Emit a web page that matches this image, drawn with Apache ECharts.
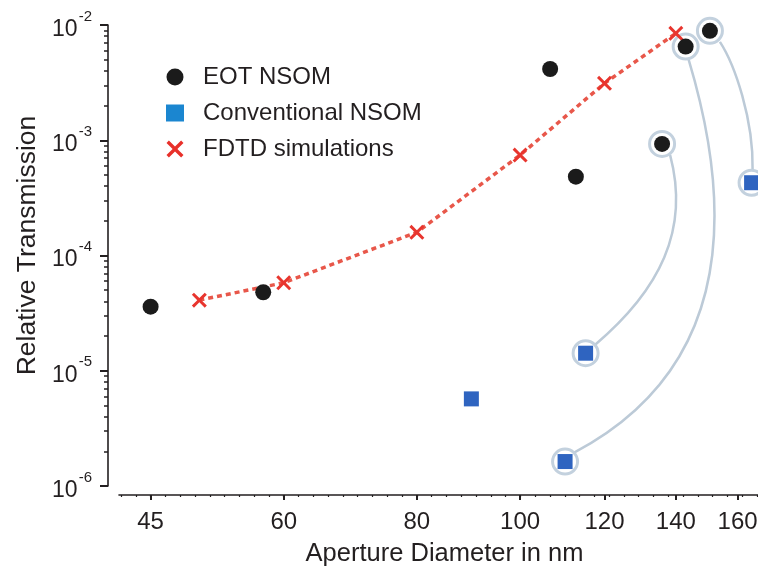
<!DOCTYPE html>
<html>
<head>
<meta charset="utf-8">
<script src="https://cdn.jsdelivr.net/npm/echarts@6/dist/echarts.min.js"></script>
<style>
  html, body { margin: 0; padding: 0; background: #fff; }
  #chart { width: 758px; height: 568px; }
</style>
</head>
<body>
<div id="chart"></div>
<script>
// Aperture diameter (nm) and relative transmission for each data set
const eotDiameter = [45, 57.4, 106.7, 112.8, 135.9, 143.0, 150.7];
const eotTransmission = [3.6e-5, 4.8e-5, 4.15e-3, 4.83e-4, 9.3e-4, 6.5e-3, 8.9e-3];

const convDiameter = [90.0, 115.2, 110.2, 164.9];
const convTransmission = [5.7e-6, 1.42e-5, 1.63e-6, 4.28e-4];

const fdtdDiameter = [50, 60, 80, 100, 120, 140];
const fdtdTransmission = [4.1e-5, 5.8e-5, 1.59e-4, 7.44e-4, 3.12e-3, 8.47e-3];

// EOT points linked to the conventional point measured on the same probe
const linkedEot = [4, 5, 6];
const linkedConv = [1, 2, 3];

// Axis ticks
const xTickLabels = [45, 60, 80, 100, 120, 140, 160];
const yExponents = [-6, -5, -4, -3, -2];
const xRange = [42.03, 167.2];

const FONT = "'Liberation Sans', Arial, Helvetica, sans-serif";
const INK = '#231f20';
const lg = Math.log10;

// Both axes are logarithmic: values are placed in log10 space
const toPoints = (xs, ys) => xs.map((x, i) => [lg(x), lg(ys[i])]);
const eotPts = toPoints(eotDiameter, eotTransmission);
const convPts = toPoints(convDiameter, convTransmission);
const fdtdPts = toPoints(fdtdDiameter, fdtdTransmission);
const ringPts = linkedEot.map(i => eotPts[i]).concat(linkedConv.map(i => convPts[i]));
const links = linkedEot.map((e, k) => [eotPts[e][0], eotPts[e][1], convPts[linkedConv[k]][0], convPts[linkedConv[k]][1], k]);

// minor ticks: x evenly spaced in log space, y at 2..9 of each decade
const xStep = lg(60 / 45) / 9;
const xMinor = [];
for (let v = lg(45); v > lg(xRange[0]); v -= xStep) xMinor.push(v);
for (let v = lg(45) + xStep; v < lg(xRange[1]); v += xStep) xMinor.push(v);
const yMinor = [];
yExponents.slice(0, -1).forEach(d => { for (let k = 2; k <= 9; k++) yMinor.push(d + lg(k)); });

// connector shapes (pixel offsets from the linked markers)
const bends = [
  { s: [8, 11], c1: [28, 86], c2: [74, -63], e: [9, -8] },
  { s: [3, 13], c1: [39, 133], c2: [185, -102], e: [9, -9] },
  { s: [10, 11], c1: [25, 34], c2: [2, -63], e: [1, -13] }
];

const crossPath = 'path://M0,1.4L1.4,0L5,3.6L8.6,0L10,1.4L6.4,5L10,8.6L8.6,10L5,6.4L1.4,10L0,8.6L3.6,5Z';

const chart = echarts.init(document.getElementById('chart'));
const xMajor = xTickLabels.map(lg);

chart.setOption({
  animation: false,
  textStyle: { fontFamily: FONT },
  grid: { left: 119, right: 0, top: 25, bottom: 82, containLabel: false, outerBoundsMode: 'none' },
  legend: {
    orient: 'vertical', left: 161, top: 59, itemWidth: 18, itemHeight: 17, itemGap: 10,
    selectedMode: false,
    textStyle: { fontSize: 24, color: INK, fontFamily: FONT, lineHeight: 26, padding: [0, 0, 0, 14] },
    data: [
      { name: 'EOT NSOM', icon: 'circle', itemStyle: { color: '#1b1b1b' } },
      { name: 'Conventional NSOM', icon: 'rect', itemStyle: { color: '#1b86d0' } },
      { name: 'FDTD simulations', icon: crossPath, itemStyle: { color: '#e8302a', borderWidth: 0 } }
    ]
  },
  xAxis: [{
    type: 'value', min: lg(xRange[0]), max: lg(xRange[1]), position: 'bottom', offset: 9,
    name: 'Aperture Diameter in nm', nameLocation: 'middle', nameGap: 46,
    nameTextStyle: { fontSize: 25.5, color: INK, fontFamily: FONT, padding: [0, 0, 0, 12] },
    axisLine: { lineStyle: { color: INK, width: 1.6 } },
    axisTick: { customValues: xMajor, length: 5, lineStyle: { color: INK, width: 2 } },
    axisLabel: { customValues: xMajor, margin: 15, fontSize: 24, color: INK, fontFamily: FONT,
      formatter: v => String(Math.round(Math.pow(10, v))) },
    splitLine: { show: false }
  }, {
    type: 'value', min: lg(xRange[0]), max: lg(xRange[1]), position: 'bottom', offset: 9,
    axisLine: { show: false },
    axisTick: { customValues: xMinor, length: 2, lineStyle: { color: INK, width: 1.2 } },
    axisLabel: { show: false }, splitLine: { show: false }
  }],
  yAxis: [{
    type: 'value', min: -6, max: -2, position: 'left', offset: 11,
    name: 'Relative Transmission', nameLocation: 'middle', nameGap: 67,
    nameTextStyle: { fontSize: 26.5, color: INK, fontFamily: FONT, padding: [0, 0, 0, 20] },
    axisLine: { lineStyle: { color: INK, width: 1.6 } },
    axisTick: { customValues: yExponents, length: 8, lineStyle: { color: INK, width: 2 } },
    axisLabel: {
      customValues: yExponents, margin: 16,
      formatter: v => '{b|10}{s|' + Math.round(v) + '}',
      rich: {
        b: { fontSize: 23, color: INK, fontFamily: FONT, lineHeight: 32, verticalAlign: 'bottom' },
        s: { fontSize: 15, color: INK, fontFamily: FONT, verticalAlign: 'top', padding: [0, 0, 0, 1] }
      }
    },
    splitLine: { show: false }
  }, {
    type: 'value', min: -6, max: -2, position: 'left', offset: 11,
    axisLine: { show: false },
    axisTick: { customValues: yMinor, length: 4, lineStyle: { color: INK, width: 1.5 } },
    axisLabel: { show: false }, splitLine: { show: false }
  }],
  series: [
    {
      name: 'links', type: 'custom', coordinateSystem: 'cartesian2d', silent: true, z: 1, clip: false,
      encode: { x: [0, 2], y: [1, 3] },
      data: links,
      renderItem: (params, api) => {
        const p0 = api.coord([api.value(0), api.value(1)]);
        const p1 = api.coord([api.value(2), api.value(3)]);
        const b = bends[api.value(4)];
        return {
          type: 'bezierCurve',
          shape: {
            x1: p0[0] + b.s[0], y1: p0[1] + b.s[1],
            cpx1: p0[0] + b.c1[0], cpy1: p0[1] + b.c1[1],
            cpx2: p1[0] + b.c2[0], cpy2: p1[1] + b.c2[1],
            x2: p1[0] + b.e[0], y2: p1[1] + b.e[1]
          },
          style: { stroke: '#bccad7', lineWidth: 2.5, fill: null }
        };
      }
    },
    {
      name: 'rings', type: 'scatter', silent: true, z: 2, data: ringPts,
      symbol: 'circle', symbolSize: 25,
      itemStyle: { color: '#ffffff', borderColor: '#c3d1de', borderWidth: 3, opacity: 1 }
    },
    {
      name: 'FDTD simulations', type: 'line', z: 3, data: fdtdPts,
      symbol: crossPath, symbolSize: 15,
      itemStyle: { color: '#e8352e', borderWidth: 0 },
      lineStyle: { color: '#e8574a', width: 3.5, type: [5, 4] }
    },
    {
      name: 'EOT NSOM', type: 'scatter', z: 4, data: eotPts,
      symbol: 'circle', symbolSize: 16, itemStyle: { color: '#1b1b1b', opacity: 1 }
    },
    {
      name: 'Conventional NSOM', type: 'scatter', z: 4, data: convPts,
      symbol: 'rect', symbolSize: 15, itemStyle: { color: '#2f64c0', opacity: 1 }
    }
  ]
});
</script>
</body>
</html>
